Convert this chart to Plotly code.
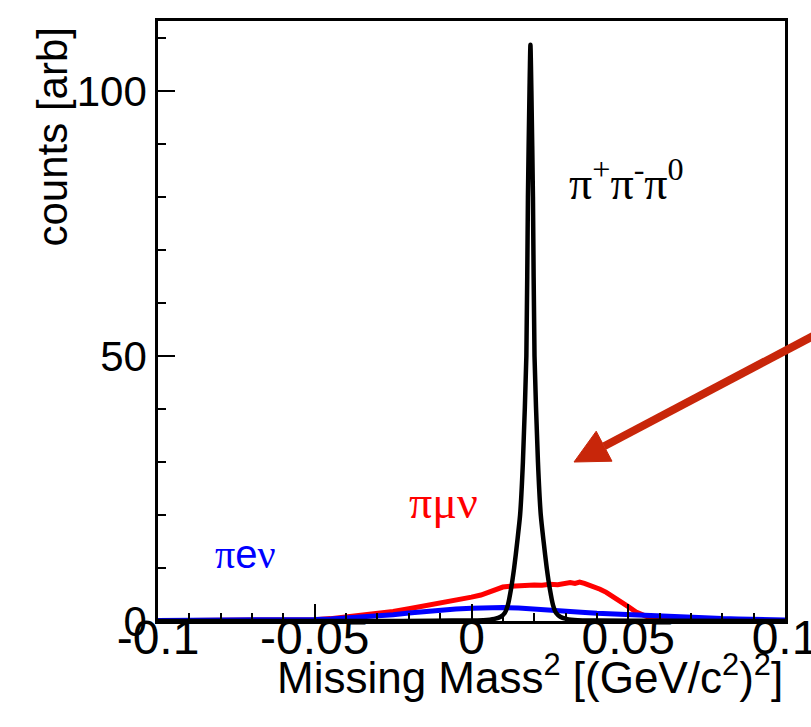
import plotly.graph_objects as go

# Missing-mass-squared spectra for three K+ decay channels (arbitrary units)

# K+ -> pi+ pi- pi0 : narrow peak at the pi0 mass squared
x_3pi = [-0.1, -0.03, -0.012, 0.0, 0.0038, 0.0073, 0.0093, 0.0106, 0.0116, 0.0126,
         0.0136, 0.0146, 0.0155, 0.0164, 0.0175, 0.018, 0.0185, 0.0188,
         0.0191, 0.0196, 0.0201, 0.0212, 0.0221, 0.023, 0.024, 0.025,
         0.026, 0.027, 0.0283, 0.0303, 0.0338, 0.04, 0.06, 0.1]
y_3pi = [0.0, 0.0, 0.05, 0.1, 0.15, 0.4, 0.8, 1.5, 3.0, 6.0,
         10.0, 15.0, 20.0, 30.0, 50.0, 80.0, 100.0, 108.7,
         100.0, 80.0, 50.0, 30.0, 20.0, 15.0, 10.0, 6.0,
         3.0, 1.5, 0.8, 0.4, 0.15, 0.1, 0.05, 0.0]

# K+ -> pi mu nu
x_pmn = [-0.1, -0.08, -0.06, -0.05, -0.045, -0.04, -0.035, -0.03, -0.025, -0.02,
         -0.015, -0.01, -0.005, 0.0, 0.003, 0.006, 0.008, 0.01, 0.0125, 0.015,
         0.0175, 0.02, 0.0225, 0.025, 0.0275, 0.03, 0.0315, 0.033, 0.0345, 0.036,
         0.0375, 0.039, 0.041, 0.043, 0.045, 0.0475, 0.05, 0.0525, 0.055, 0.0575,
         0.06, 0.065, 0.07, 0.08, 0.09, 0.1]
y_pmn = [0.05, 0.05, 0.1, 0.25, 0.45, 0.75, 1.1, 1.45, 1.8, 2.3,
         2.8, 3.4, 3.95, 4.5, 4.9, 5.6, 6.1, 6.4, 6.55, 6.7,
         6.65, 6.8, 6.75, 6.95, 6.85, 7.0, 7.25, 7.1, 7.35, 7.1,
         6.8, 6.45, 6.0, 5.4, 4.7, 3.7, 2.7, 1.7, 0.95, 0.45,
         0.25, 0.12, 0.08, 0.05, 0.05, 0.05]

# K+ -> pi e nu
x_pen = [-0.1, -0.09, -0.08, -0.07, -0.06, -0.05, -0.045, -0.04, -0.035, -0.03,
         -0.025, -0.02, -0.015, -0.01, -0.005, 0.0, 0.005, 0.01, 0.015, 0.02,
         0.025, 0.03, 0.035, 0.04, 0.045, 0.05, 0.055, 0.06, 0.065, 0.07,
         0.075, 0.08, 0.085, 0.09, 0.095, 0.1]
y_pen = [0.1, 0.1, 0.12, 0.15, 0.2, 0.3, 0.4, 0.55, 0.7, 0.9,
         1.2, 1.5, 1.8, 2.05, 2.25, 2.4, 2.5, 2.55, 2.45, 2.3,
         2.1, 1.9, 1.65, 1.45, 1.3, 1.15, 1.0, 0.9, 0.75, 0.65,
         0.55, 0.45, 0.4, 0.33, 0.27, 0.2]

X_RANGE = [-0.1, 0.1]
Y_RANGE = [0, 113.2]
X_TICKS = [-0.1, -0.05, 0, 0.05, 0.1]
X_TICK_TEXT = ["-0.1", "-0.05", "0", "0.05", "0.1"]
Y_TICKS = [0, 50, 100]
Y_TICK_TEXT = ["0", "50", "100"]

FONT = "Liberation Sans, Arial, Helvetica, sans-serif"
SERIF = "Liberation Serif, Times New Roman, serif"

fig = go.Figure()
fig.add_trace(go.Scatter(x=x_pmn, y=y_pmn, mode="lines",
                         line=dict(color="#ff0000", width=5), name="πμν"))
fig.add_trace(go.Scatter(x=x_pen, y=y_pen, mode="lines",
                         line=dict(color="#0000ff", width=5), name="πeν"))
fig.add_trace(go.Scatter(x=x_3pi, y=y_3pi, mode="lines",
                         line=dict(color="#000000", width=4.5, shape="spline",
                                   smoothing=0.6),
                         name="π+π-π0"))

L, R, T, B = 158, 26, 21, 106
W, H = 811, 727
PW, PH = W - L - R, H - T - B


def px(xp, yp):
    """pixel position on the page -> paper coordinates"""
    return (xp - L) / PW, (H - B - yp) / PH


axis_common = dict(
    showline=True, linecolor="black", linewidth=2.5, mirror=True,
    ticks="inside", tickcolor="black", tickwidth=2, ticklen=17,
    showgrid=False, zeroline=False,
)

fig.update_xaxes(range=X_RANGE, tickmode="array",
                 tickvals=X_TICKS, ticktext=X_TICK_TEXT,
                 tickfont=dict(family=FONT, size=48, color="black"),
                 ticklabelstandoff=-27, ticklabeloverflow="allow",
                 minor=dict(ticks="inside", dtick=0.01, tick0=0, ticklen=8,
                            tickwidth=2, tickcolor="black"),
                 **axis_common)
fig.update_yaxes(range=Y_RANGE, tickmode="array", tickvals=Y_TICKS,
                 ticktext=Y_TICK_TEXT, ticklabeloverflow="allow",
                 tickfont=dict(family=FONT, size=42, color="black"),
                 minor=dict(ticks="inside", dtick=10, tick0=0, ticklen=8,
                            tickwidth=2, tickcolor="black"),
                 **axis_common)

annotations = []
# axis titles, right-aligned at the axis ends
annotations.append(dict(
    text="Missing Mass<sup>2</sup> [(GeV/c<sup>2</sup>)<sup>2</sup>]",
    xref="paper", yref="paper", x=1.0, y=px(0, 645)[1],
    xanchor="right", yanchor="top", showarrow=False,
    font=dict(family=FONT, size=44, color="black")))
annotations.append(dict(
    text="counts [arb]", textangle=-90,
    xref="paper", yref="paper", x=px(52, 0)[0], y=px(0, 26)[1],
    xanchor="center", yanchor="top", showarrow=False,
    font=dict(family=FONT, size=42, color="black")))

# channel labels
annotations.append(dict(
    text="π<sup>+</sup>π<sup>-</sup>π<sup>0</sup>",
    x=0.0493, y=83.2, xref="x", yref="y", showarrow=False,
    font=dict(family=SERIF, size=46, color="black")))
annotations.append(dict(
    text="πμν", x=-0.0088, y=22.3, xref="x", yref="y", showarrow=False,
    font=dict(family=SERIF, size=46, color="#ff0000")))
annotations.append(dict(
    text="π<span style='font-family:Liberation Sans'>e</span>ν",
    x=-0.0722, y=12.5, xref="x", yref="y", showarrow=False,
    font=dict(family=SERIF, size=40, color="#0000ff")))

# red arrow pointing at the signal region
ARROW = "#c8260a"
tip = (574, 462)
base_c = (604.1, 446.2)
base_a = (612.0, 461.2)
base_b = (596.2, 431.2)
tail = (830, 327.1)

shapes = []
t0, t1 = px(*tail), px(*base_c)
shapes.append(dict(type="line", xref="paper", yref="paper",
                   x0=t0[0], y0=t0[1], x1=t1[0], y1=t1[1],
                   line=dict(color=ARROW, width=8)))
p_tip, p_a, p_b = px(*tip), px(*base_a), px(*base_b)
shapes.append(dict(type="path", xref="paper", yref="paper",
                   path=f"M{p_tip[0]},{p_tip[1]} L{p_a[0]},{p_a[1]} L{p_b[0]},{p_b[1]} Z",
                   fillcolor=ARROW, line=dict(color=ARROW, width=1)))

fig.update_layout(
    width=W, height=H,
    margin=dict(l=L, r=R, t=T, b=B, autoexpand=False),
    paper_bgcolor="white", plot_bgcolor="white",
    showlegend=False,
    annotations=annotations, shapes=shapes,
)

fig.write_html("out.html")
